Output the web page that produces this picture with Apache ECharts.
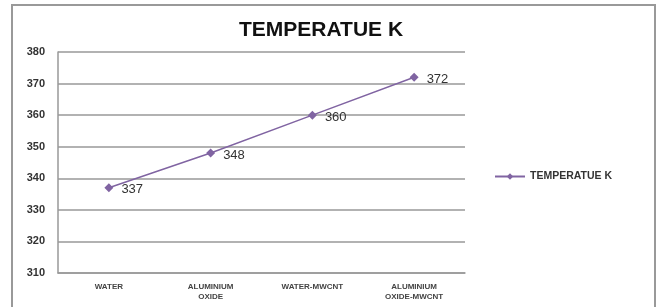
<!DOCTYPE html>
<html>
<head>
<meta charset="utf-8">
<script src="https://cdn.jsdelivr.net/npm/echarts@6/dist/echarts.min.js"></script>
<style>
  html, body { margin: 0; padding: 0; background: #fff; }
  #chart { width: 667px; height: 307px; }
</style>
</head>
<body>
<div id="chart"></div>
<script>
// data
const categories = ["WATER", "ALUMINIUM\nOXIDE", "WATER-MWCNT", "ALUMINIUM\nOXIDE-MWCNT"];
const temperature = [337, 348, 360, 372];
const seriesName = "TEMPERATUE K";

const chart = echarts.init(document.getElementById("chart"));

const option = {
  animation: false,
  backgroundColor: "#fff",
  title: {
    text: "TEMPERATUE K",
    left: 316,
    textAlign: "center",
    top: 15,
    textStyle: { fontFamily: "Liberation Sans", fontSize: 21, fontWeight: "bold", color: "#111" },
  },
  legend: {
    data: [seriesName],
    left: 489,
    top: 166,
    itemWidth: 30,
    itemHeight: 8,
    itemGap: 4,
    textStyle: { fontFamily: "Liberation Sans", fontSize: 10.5, fontWeight: "bold", color: "#333" },
  },
  graphic: [
    {
      type: "rect",
      shape: { x: 12, y: 5, width: 643, height: 320 },
      style: { fill: "none", stroke: "#999", lineWidth: 2 },
      silent: true,
    },
  ],
  grid: { left: 58, right: 202, top: 52, bottom: 34 },
  xAxis: {
    type: "category",
    data: categories,
    boundaryGap: true,
    axisLine: { lineStyle: { color: "#999", width: 1.5 } },
    axisTick: { show: false },
    axisLabel: {
      fontFamily: "Liberation Sans",
      fontSize: 8,
      fontWeight: "bold",
      color: "#444",
      margin: 9,
      lineHeight: 10,
    },
  },
  yAxis: {
    type: "value",
    min: 310,
    max: 380,
    interval: 10,
    axisLine: { show: true, lineStyle: { color: "#999", width: 1.5 } },
    axisTick: { show: false },
    splitLine: { lineStyle: { color: "#999", width: 1.5 } },
    axisLabel: {
      fontFamily: "Liberation Sans",
      fontSize: 11,
      fontWeight: "bold",
      color: "#333",
      margin: 13,
    },
  },
  series: [
    {
      name: seriesName,
      type: "line",
      data: temperature,
      symbol: "diamond",
      symbolSize: 9,
      lineStyle: { color: "#8064A2", width: 1.5 },
      itemStyle: { color: "#8064A2" },
      label: {
        show: true,
        position: "right",
        distance: 8,
        fontFamily: "Liberation Sans",
        fontSize: 13,
        color: "#333",
        offset: [0, 2],
      },
    },
  ],
};

chart.setOption(option);
</script>
</body>
</html>
